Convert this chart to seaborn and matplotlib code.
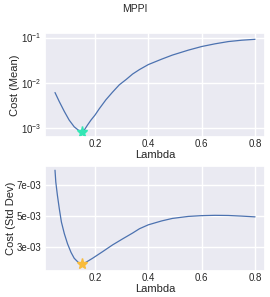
import numpy as np
import pandas as pd
import matplotlib
matplotlib.use("Agg")
import matplotlib.pyplot as plt
import seaborn as sns

# Data
lam_mean = [0.05, 0.066, 0.085, 0.103, 0.122, 0.141, 0.15, 0.16, 0.172, 0.185, 0.20,
            0.216, 0.241, 0.266, 0.291, 0.317, 0.341, 0.367, 0.40, 0.45, 0.49, 0.55,
            0.60, 0.65, 0.70, 0.75, 0.80]
log_cost_mean = [-2.22, -2.42, -2.64, -2.83, -2.98, -3.07, -3.09, -3.05, -2.94, -2.83, -2.72,
                 -2.58, -2.38, -2.21, -2.05, -1.93, -1.81, -1.71, -1.60, -1.48, -1.39, -1.28,
                 -1.20, -1.14, -1.09, -1.06, -1.04]
cost_mean = [10 ** v for v in log_cost_mean]

lam_std = [0.05, 0.053, 0.059, 0.066, 0.074, 0.085, 0.097, 0.11, 0.122, 0.137, 0.15,
           0.166, 0.191, 0.229, 0.266, 0.304, 0.341, 0.367, 0.40, 0.45, 0.49, 0.55,
           0.60, 0.65, 0.70, 0.75, 0.80]
cost_std = [7.96e-3, 7.20e-3, 6.35e-3, 5.50e-3, 4.63e-3, 3.88e-3, 3.23e-3, 2.68e-3, 2.30e-3,
            2.04e-3, 1.93e-3, 2.04e-3, 2.30e-3, 2.73e-3, 3.16e-3, 3.55e-3, 3.92e-3, 4.20e-3,
            4.45e-3, 4.70e-3, 4.86e-3, 4.99e-3, 5.04e-3, 5.06e-3, 5.05e-3, 5.01e-3, 4.96e-3]

best_lam_mean = 0.15
best_mean = 10 ** -3.09
best_lam_std = 0.15
best_std = 1.93e-3

title = "MPPI"
xlabel = "Lambda"
ylabel_mean = "Cost (Mean)"
ylabel_std = "Cost (Std Dev)"

sns.set_theme(style="darkgrid")
plt.rcParams['font.family'] = ['Liberation Sans', 'DejaVu Sans']

df_mean = pd.DataFrame({"Lambda": lam_mean, "Cost": cost_mean})
df_std = pd.DataFrame({"Lambda": lam_std, "Cost": cost_std})

W, H = 270, 297
fig = plt.figure(figsize=(W / 100, H / 100), dpi=100)
ax1 = fig.add_axes([45 / W, 1 - 136.5 / H, 220 / W, 103.5 / H])
ax2 = fig.add_axes([45 / W, 1 - 270.7 / H, 220 / W, 105 / H])

line_color = "#4c72b0"

sns.lineplot(data=df_mean, x="Lambda", y="Cost", ax=ax1, color=line_color, linewidth=0.9)
ax1.set_yscale("log")
ax1.plot([best_lam_mean], [best_mean], marker="*", color="#33e6b4", markersize=8, linestyle="none")
ax1.set_ylim(10 ** -3.195, 10 ** -0.9)
ax1.minorticks_off()

sns.lineplot(data=df_std, x="Lambda", y="Cost", ax=ax2, color=line_color, linewidth=0.9)
ax2.plot([best_lam_std], [best_std], marker="*", color="#f8bb3c", markersize=8, linestyle="none")
ax2.set_ylim(1.5e-3, 8.25e-3)
ax2.set_yticks([3e-3, 5e-3, 7e-3])
ax2.set_yticklabels(["3e-03", "5e-03", "7e-03"])

# (axes, ylabel, ylabel right edge px, xlabel top offset px, axes height px, x tick pad)
for ax, ylab, lx, xoff, hpx, xpad in ((ax1, ylabel_mean, 19.5, 14.0, 103.5, 2.0),
                                      (ax2, ylabel_std, 16.5, 13.0, 105.0, 1.5)):
    ax.set_xlim(0.0125, 0.8375)
    ax.set_xticks([0.2, 0.4, 0.6, 0.8])
    ax.set_ylabel(ylab, fontsize=8)
    ax.set_xlabel(xlabel, fontsize=8)
    ax.tick_params(axis="both", length=0, labelsize=7)
    ax.tick_params(axis="x", pad=xpad)
    ax.tick_params(axis="y", pad=2.5)
    ax.yaxis.set_label_coords((lx - 45) / 220, 0.5)
    ax.xaxis.set_label_coords(0.5, -xoff / hpx)

fig.text(0.5, 1 - 9.5 / H, title, ha="center", va="center", fontsize=7.5)

fig.savefig("out.png", dpi=100)
